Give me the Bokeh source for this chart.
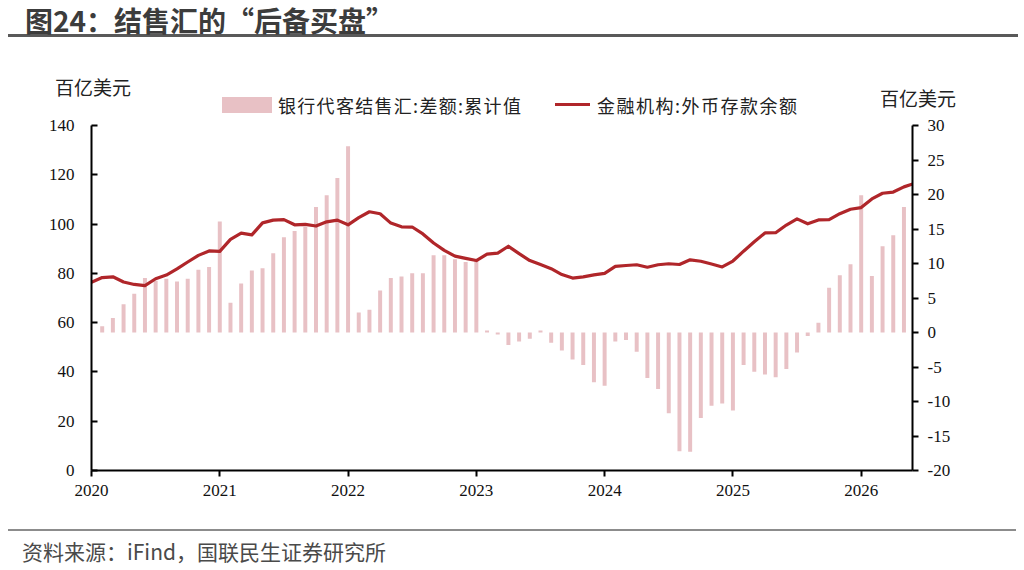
from bokeh.plotting import figure
from bokeh.models import Range1d, LinearAxis, FixedTicker, Div, ColumnDataSource
from bokeh.layouts import column
from bokeh.embed import file_html
from bokeh.resources import INLINE

# ---- data -------------------------------------------------------------
# bank FX settlement surplus on behalf of clients, cumulative (right axis),
# monthly from 2020-01 to 2026-04, unit: 百亿美元
settle_start = (2020, 1)
settle_cum = [
    0.9, 2.1, 4.1, 5.6, 7.9, 7.5, 7.8, 7.4, 7.8, 9.1, 9.5, 16.1,
    4.3, 7.1, 9.0, 9.3, 11.5, 13.8, 14.7, 15.3, 18.2, 19.9, 22.4, 27.0,
    2.9, 3.3, 6.1, 7.9, 8.1, 8.6, 8.6, 11.2, 11.2, 10.6, 10.2, 10.4,
    0.3, -0.3, -1.8, -1.3, -0.9, 0.3, -1.5, -2.6, -3.9, -4.7, -7.2, -7.7,
    -1.3, -1.1, -2.8, -6.6, -8.2, -11.7, -17.2, -17.3, -12.4, -10.6, -10.3, -11.3,
    -4.7, -5.7, -6.1, -6.5, -5.3, -2.9, -0.5, 1.4, 6.5, 8.3, 9.9, 19.9,
    8.2, 12.5, 14.1, 18.2,
]

# foreign currency deposits of financial institutions (left axis),
# monthly from 2019-12 to 2026-05, unit: 百亿美元
deposit_start = (2019, 12)
fx_deposits = [
    76.4,
    78.3, 78.6, 76.5, 75.5, 75.0, 77.8, 79.3, 81.8, 84.6, 87.3, 89.1, 88.9,
    93.8, 96.3, 95.6, 100.5, 101.6, 101.8, 99.7, 99.9, 99.2, 100.9, 101.6, 99.7,
    102.6, 105.0, 104.2, 100.4, 98.9, 98.8, 96.0, 92.3, 89.3, 87.0, 86.1, 85.2,
    87.8, 88.2, 91.0, 88.0, 85.2, 83.6, 81.9, 79.5, 78.1, 78.6, 79.4, 80.0,
    82.8, 83.2, 83.5, 82.5, 83.5, 83.9, 83.6, 85.5, 84.9, 83.8, 82.6, 85.0,
    89.0, 92.8, 96.4, 96.5, 99.6, 102.1, 100.1, 101.7, 101.8, 104.2, 106.0, 106.7,
    110.2, 112.5, 113.0, 115.1, 116.5,
]

year_ticks = [2020, 2021, 2022, 2023, 2024, 2025, 2026]
left_ticks = [0, 20, 40, 60, 80, 100, 120, 140]
right_ticks = [-20, -15, -10, -5, 0, 5, 10, 15, 20, 25, 30]

settle_label = "银行代客结售汇:差额:累计值"
deposit_label = "金融机构:外币存款余额"
unit_label = "百亿美元"
title_text = "图24：结售汇的“后备买盘”"
source_text = "资料来源：iFind，国联民生证券研究所"


def month_end_positions(start, n):
    """Fractional-year position of each month end (Dec 2019 -> 2020.0)."""
    y, m = start
    out = []
    for _ in range(n):
        out.append(y + m / 12.0)
        m += 1
        if m > 12:
            y, m = y + 1, 1
    return out


bar_x = month_end_positions(settle_start, len(settle_cum))
line_x = month_end_positions(deposit_start, len(fx_deposits))

bar_src = ColumnDataSource(dict(x=bar_x, top=settle_cum))
line_src = ColumnDataSource(dict(x=line_x, y=fx_deposits))

CJK = "Noto Sans CJK SC"
SERIF = "Liberation Serif"
BAR_COLOR = "#E8C1C5"
LINE_COLOR = "#B0262A"
TEXT_COLOR = "#222222"

# ---- main chart -------------------------------------------------------
p = figure(width=1024, height=412, output_backend="svg", toolbar_location=None,
           x_range=Range1d(2020.0, 2026.40), y_range=Range1d(0, 140),
           min_border_left=91, min_border_right=112,
           min_border_top=9, min_border_bottom=58)
p.outline_line_color = None
p.xgrid.visible = False
p.ygrid.visible = False

p.extra_y_ranges = {"right": Range1d(-20, 30)}

p.vbar(x="x", top="top", bottom=0, width=0.031, source=bar_src,
       y_range_name="right", fill_color=BAR_COLOR, line_color=None)
p.line(x="x", y="y", source=line_src, line_color=LINE_COLOR,
       line_width=3.2, line_join="round")


def style_axis(ax, tick_in, tick_out, standoff):
    ax.major_tick_in = tick_in
    ax.major_tick_out = tick_out
    ax.minor_tick_line_color = None
    ax.axis_line_width = 2
    ax.major_tick_line_width = 2
    ax.major_label_standoff = standoff
    ax.major_label_text_font = SERIF
    ax.major_label_text_font_size = "17px"
    ax.major_label_text_color = "#111111"


# left axis
ya = p.yaxis[0]
ya.ticker = FixedTicker(ticks=left_ticks)
style_axis(ya, 6, 0, 17)

# right axis
ra = LinearAxis(y_range_name="right", ticker=FixedTicker(ticks=right_ticks),
                major_label_overrides={t: str(t) for t in right_ticks})
style_axis(ra, 0, 6, 9)
p.add_layout(ra, "right")

# bottom axis
xa = p.xaxis[0]
xa.ticker = FixedTicker(ticks=year_ticks)
xa.major_label_overrides = {t: str(t) for t in year_ticks}
style_axis(xa, 0, 6, 8)

# ---- title, header (units + legend) and source ------------------------
title_div = Div(
    text=('<div style="margin-left:8px;width:1010px;height:37px;'
          'border-bottom:3px solid #595959;">'
          '<span style="display:inline-block;margin-left:17px;margin-top:5px;'
          f'font-family:\'{CJK}\';font-weight:bold;font-size:28px;line-height:30px;'
          f'color:#3c3c3c;white-space:nowrap;">{title_text}</span></div>'),
    width=1024, height=45, margin=0)


def abs_text(txt, left, top, size=18, spacing=0.0):
    return (f'<span style="position:absolute;left:{left}px;top:{top}px;'
            f'font-family:\'{CJK}\';font-size:{size}px;line-height:{size}px;'
            f'letter-spacing:{spacing}px;'
            f'color:{TEXT_COLOR};white-space:nowrap;">{txt}</span>')


header_html = (
    '<div style="position:relative;width:1024px;height:71px;">'
    + abs_text(unit_label, 55, 32, 19)
    + abs_text(unit_label, 880, 43, 19)
    + f'<div style="position:absolute;left:222px;top:52px;width:50px;height:16px;'
      f'background:{BAR_COLOR};"></div>'
    + abs_text(settle_label, 278, 51, 18, 1.3)
    + f'<div style="position:absolute;left:555px;top:58px;width:35px;height:3px;'
      f'background:{LINE_COLOR};"></div>'
    + abs_text(deposit_label, 597, 51, 18, 1.5)
    + '</div>'
)
header_div = Div(text=header_html, width=1024, height=71, margin=0)

source_div = Div(
    text=('<div style="margin-left:8px;width:1008px;margin-top:1px;'
          'border-top:2px solid #8c8c8c;">'
          '<span style="display:inline-block;margin-left:14px;margin-top:9px;'
          f'font-family:\'{CJK}\';font-size:21px;line-height:23px;'
          f'color:#4a4a4a;white-space:nowrap;">{source_text}</span></div>'),
    width=1024, height=42, margin=0)

layout = column(title_div, header_div, p, source_div, spacing=0, margin=0)

with open("out.html", "w") as f:
    f.write(file_html(layout, INLINE))
